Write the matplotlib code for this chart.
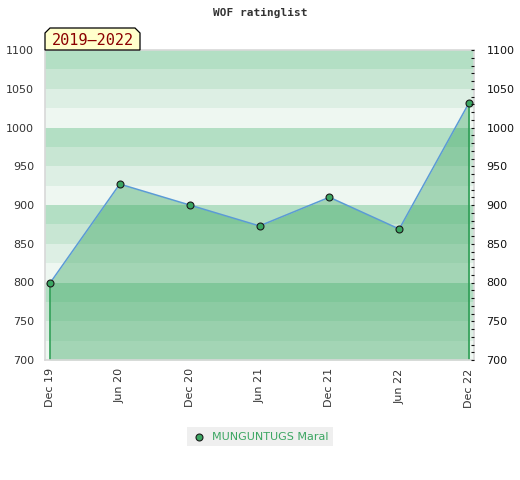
import matplotlib
matplotlib.use("Agg")
import matplotlib.pyplot as plt
from matplotlib.patches import Polygon
import numpy as np

dates = ["Dec 19", "Jun 20", "Dec 20", "Jun 21", "Dec 21", "Jun 22", "Dec 22"]
ratings = [799, 927, 900, 873, 910, 869, 1032]
player = "MUNGUNTUGS Maral"
period = "2019–2022"
title = "WOF ratinglist"

fig = plt.figure(figsize=(5.2, 4.8), dpi=100)
W, H = 520, 480
x0, x1, ytop, ybot = 45, 474, 50, 360
ax = fig.add_axes([x0 / W, 1 - ybot / H, (x1 - x0) / W, (ybot - ytop) / H])

xs = np.arange(len(dates))
ax.set_xlim(-0.07, len(dates) - 1 + 0.07)
ax.set_ylim(700, 1100)

band_cols = ["#eef7f1", "#ddefe4", "#c8e6d3", "#b3dfc4"]
for base in range(700, 1100, 100):
    for i in range(4):
        ax.axhspan(base + i * 25, base + (i + 1) * 25, color=band_cols[i], lw=0, zorder=0)

ax.fill_between(xs, ratings, 700, color="#3ba662", alpha=0.42, lw=0, zorder=1)
ax.vlines([xs[0], xs[-1]], 700, [ratings[0], ratings[-1]], color="#2e9e55", lw=1.2, zorder=2)
ax.plot(xs, ratings, color="#5b9bd5", lw=1.1, zorder=3)
ax.plot(xs, ratings, "o", ms=5, mfc="#3ba662", mec="#1a1a1a", mew=0.8, zorder=4, clip_on=False)

for s in ax.spines.values():
    s.set_color("#d8d8d8")
    s.set_linewidth(1.2)

ax.set_xticks(xs)
ax.set_xticklabels(dates, rotation=90, fontsize=8, color="#333333")
ax.tick_params(axis="x", length=0, pad=6)
yt = list(range(700, 1101, 50))
ax.set_yticks(yt)
ax.set_yticklabels([str(v) for v in yt], fontsize=8, color="#333333")
ax.tick_params(axis="y", length=0, pad=8, left=False)

ax2 = ax.twinx()
ax2.set_ylim(700, 1100)
ax2.set_yticks(yt)
ax2.set_yticklabels([str(v) for v in yt], fontsize=8, color="#111111")
ax2.set_yticks(np.arange(700, 1101, 10), minor=True)
ax2.tick_params(axis="y", which="major", direction="in", length=2.5, width=0.8, color="#111111", pad=9)
ax2.tick_params(axis="y", which="minor", direction="in", length=2.5, width=0.8, color="#111111")
for s in ax2.spines.values():
    s.set_visible(False)

fig.text(260 / W, 1 - 13 / H, title, ha="center", va="center", fontsize=8,
         family="DejaVu Sans Mono", fontweight="bold", color="#333333")

# period label box with clipped top corners
bx0, bx1, by0, by1, c = 45, 140, 28, 50, 5
pts = [(bx0, by1), (bx0, by0 + c), (bx0 + c, by0), (bx1 - c, by0), (bx1, by0 + c), (bx1, by1)]
poly = Polygon([(px / W, 1 - py / H) for px, py in pts], closed=True, transform=fig.transFigure,
               facecolor="#ffffcc", edgecolor="#000000", lw=0.9, zorder=10)
fig.add_artist(poly)
fig.text((bx0 + bx1) / 2 / W, 1 - 40.5 / H, period, ha="center", va="center", fontsize=11,
         family="DejaVu Sans Mono", color="#8b0000", zorder=11)

# legend
lg = fig.add_axes([187 / W, 1 - 446 / H, (333 - 187) / W, 19 / H])
lg.set_xlim(0, 146)
lg.set_ylim(0, 19)
lg.axis("off")
lg.add_patch(plt.Rectangle((0, 0), 146, 19, color="#efefef", lw=0))
lg.plot([12], [9.5], "o", ms=5, mfc="#3ba662", mec="#1a1a1a", mew=0.8)
lg.text(25, 9.5, player, va="center", ha="left", fontsize=8, color="#3ba662")

fig.savefig("out.png", dpi=100, facecolor="white")
